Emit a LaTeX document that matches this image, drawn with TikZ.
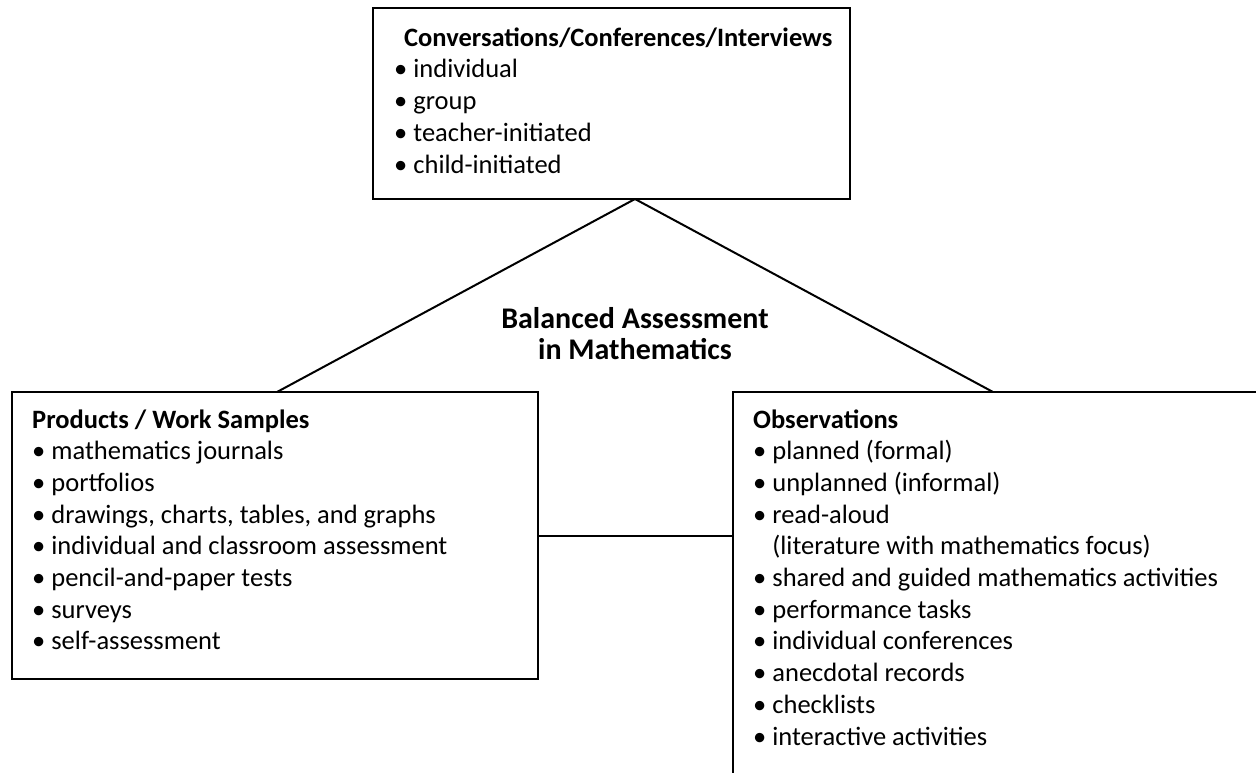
\documentclass[tikz,border=0pt]{standalone}
\usepackage{fontspec}
\setmainfont{Carlito}
\usetikzlibrary{calc}
\begin{document}
\begin{tikzpicture}[x=1pt,y=-1pt,
  box/.style={draw, line width=2.5pt, inner sep=0pt, outer sep=0pt, anchor=north west},
  conn/.style={line width=2pt},
  hd/.style={font=\fontsize{26.5}{31}\selectfont\bfseries, anchor=base west, inner sep=0pt},
  itm/.style={font=\fontsize{26.5}{31}\selectfont, anchor=base west, inner sep=0pt},
  ttl/.style={font=\fontsize{30}{31}\selectfont\bfseries, anchor=base, inner sep=0pt}]
\useasboundingbox (0,0) rectangle (1256,772);
\fill[white] (0,0) rectangle (1256,772);
% boxes
\node[box, minimum width=477pt, minimum height=191pt] (top) at (373,8) {};
\node[box, minimum width=526pt, minimum height=287pt] (left) at (12,392) {};
\node[box, minimum width=560pt, minimum height=420pt] (right) at (733,392) {};
% top text
\node[hd] (toph) at (404,46) {Conversations/Conferences/Interviews};
\foreach \t [count=\i] in {individual, group, teacher-initiated, child-initiated}
  \node[itm] (T\i) at (394,{46+31.8*\i}) {• \t};
% left text
\node[hd] (lefth) at (32,428) {Products / Work Samples};
\foreach \t [count=\i] in {mathematics journals, portfolios, {drawings, charts, tables, and graphs}, individual and classroom assessment, pencil-and-paper tests, surveys, self-assessment}
  \node[itm] (L\i) at (32,{428+31.7*\i}) {• \t};
% right text
\node[hd] (righth) at (753,428) {Observations};
\foreach \t [count=\i] in {• planned (formal), • unplanned (informal), • read-aloud, \phantom{• }(literature with mathematics focus), • shared and guided mathematics activities, • performance tasks, • individual conferences, • anecdotal records, • checklists, • interactive activities}
  \node[itm] (R\i) at (753,{428+31.7*\i}) {\t};
% title
\node[ttl] (title1) at (635,328) {Balanced Assessment};
\node[ttl] (title2) at (635,359) {in Mathematics};
% connectors
\draw[conn] ($(top.south west)!(635,0)!(top.south east)$) -- ($(left.north west)!(277,0)!(left.north east)$);
\draw[conn] ($(top.south west)!(635,0)!(top.south east)$) -- ($(right.north west)!(993,0)!(right.north east)$);
\draw[conn] ($(left.north east)!(0,536)!(left.south east)$) -- ($(right.north west)!(0,536)!(right.south west)$);
\end{tikzpicture}
\end{document}
